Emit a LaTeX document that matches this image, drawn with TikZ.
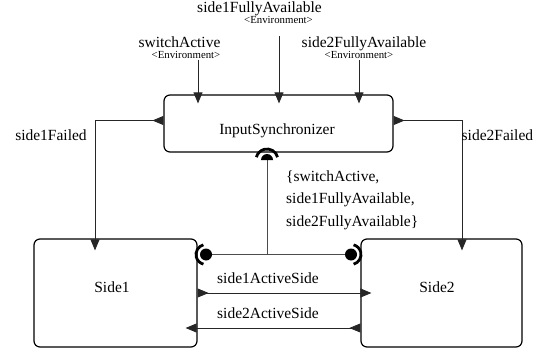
\documentclass[tikz,border=0pt]{standalone}
\usepackage{fontspec}
\setmainfont{Liberation Serif}
\usetikzlibrary{arrows.meta, positioning, calc}

\tikzset{
  %% Component block
  comp/.style={
    rectangle, rounded corners=6pt,
    draw=black, line width=1.2pt, inner sep=0pt
  },
  %% Texts
  lbl/.style={font=\fontsize{15.5}{22.7}\selectfont, inner sep=0pt},
  envtag/.style={font=\fontsize{10.8}{12}\selectfont, inner sep=0pt},
  %% Signal into a port
  sig/.style={-{Triangle[length=11pt,width=9pt]},
              draw=black!85, line width=0.8pt},
  %% Signal leaving an out port
  outsig/.style={{Triangle[reversed,length=11pt,width=9pt]}-%
                 {Triangle[length=11pt,width=9pt]},
                 draw=black!85, line width=0.8pt},
  %% Ball and socket of the shared link
  link/.style={draw=black!70, line width=0.8pt},
  socket/.style={draw=black, line width=2.8pt},
  ball/.style={fill=black},
}

\begin{document}
\begin{tikzpicture}[x=1pt, y=1pt]
  \useasboundingbox (0,0) rectangle (540,354);

  %% ---- Components ----
  \node[comp, minimum width=229pt, minimum height=57pt] (sync) at (278.5,230.5) {};
  \node[comp, minimum width=163pt, minimum height=108pt] (side1) at (115.5,61) {};
  \node[comp, minimum width=161pt, minimum height=108pt] (side2) at (441.5,61) {};

  \node[lbl, anchor=base] (syncName)  at (277,219.7) {InputSynchronizer};
  \node[lbl, anchor=base] (side1Name) at (112,61.3)  {Side1};
  \node[lbl, anchor=base] (side2Name) at (437,61.3)  {Side2};

  %% ---- Environment inputs ----
  \node[lbl, anchor=base]    (inS1Name) at (259.5,341.3) {side1FullyAvailable};
  \node[envtag, anchor=base] (inS1Tag)  at (278.5,330.7) {<Environment>};
  \node[lbl, anchor=base]    (inSwName) at (179.5,306.7) {switchActive};
  \node[envtag, anchor=base] (inSwTag)  at (186,295.7)   {<Environment>};
  \node[lbl, anchor=base]    (inS2Name) at (364,306.7)   {side2FullyAvailable};
  \node[envtag, anchor=base] (inS2Tag)  at (359,295.7)   {<Environment>};

  \coordinate (inSw) at (198,294);
  \coordinate (inS1) at (279,318);
  \coordinate (inS2) at (359,294);
  \foreach \c in {inSw, inS1, inS2}
    \draw[sig, shorten >=-9pt] (\c) -- (\c |- sync.north);

  %% ---- Failure signals ----
  \draw[outsig, shorten >=-12pt] ([yshift=3pt]sync.west) -| ([xshift=-20.5pt]side1.north);
  \draw[outsig, shorten >=-12pt] ([yshift=3pt]sync.east) -| ([xshift=20.5pt]side2.north);
  \node[lbl, anchor=base]      (failed1) at (51,213.7)    {side1Failed};
  \node[lbl, anchor=base west] (failed2) at (461.5,213.7) {side2Failed};

  %% ---- Active side handshake ----
  \draw[outsig, shorten >=-11pt] (side1.east) -- (side2.west);
  \draw[outsig, shorten >=-12pt] ([yshift=-35pt]side2.west) -- ([yshift=-35pt]side1.east);
  \node[lbl, anchor=base west] (act1) at (217,70.7) {side1ActiveSide};
  \node[lbl, anchor=base west] (act2) at (217,35.7) {side2ActiveSide};

  %% ---- Shared inputs (ball and socket) ----
  \coordinate (sockSync) at (267,194);
  \coordinate (sockS1)   at (206,99.5);
  \coordinate (sockS2)   at (351,99.5);
  \draw[link] (sockSync) -- (sockSync |- sockS1);
  \draw[link] (sockS1) -- (sockS2);

  \fill[ball] (sockSync) ++(6,0) arc[start angle=0, end angle=180, radius=6] -- cycle;
  \draw[socket] (sockSync) ++(15:11) arc[start angle=15, end angle=165, radius=11];
  \fill[ball] (sockS1) circle[radius=6];
  \draw[socket] (sockS1) ++(105:10) arc[start angle=105, end angle=255, radius=10];
  \fill[ball] (sockS2) circle[radius=6];
  \draw[socket] (sockS2) ++(-75:10) arc[start angle=-75, end angle=75, radius=10];

  %% last line sits on the given base
  \node[lbl, anchor=base west, align=left] (sharedIn) at (286,127.6)
       {\{switchActive,\\side1FullyAvailable,\\side2FullyAvailable\}};

\end{tikzpicture}
\end{document}
